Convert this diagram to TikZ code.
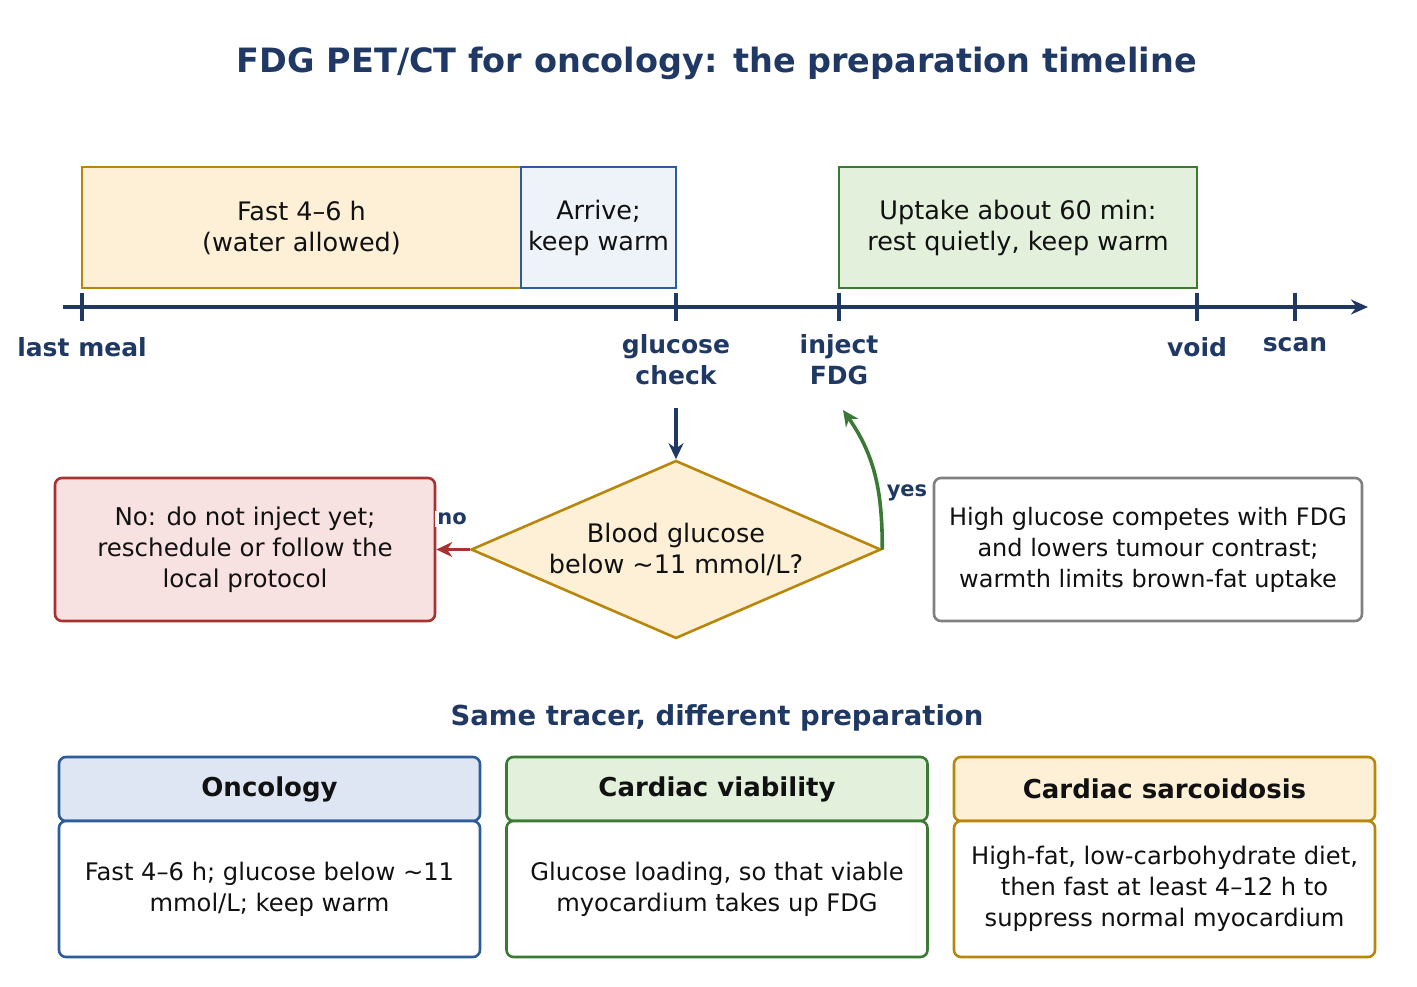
\documentclass[tikz,border=0pt]{standalone}
\usepackage{fontspec}
\setmainfont{DejaVu Sans}
\usetikzlibrary{shapes.geometric,arrows.meta}
\definecolor{navy}{HTML}{1F3864}
\definecolor{gold}{HTML}{B8860B}
\definecolor{goldf}{HTML}{FDF0D7}
\definecolor{blu}{HTML}{2E5C9A}
\definecolor{bluf}{HTML}{EEF2F9}
\definecolor{bluh}{HTML}{DDE6F2}
\definecolor{grn}{HTML}{3A7A35}
\definecolor{grnf}{HTML}{E2F0DC}
\definecolor{rd}{HTML}{A83232}
\definecolor{rdf}{HTML}{F8E1E1}
\definecolor{txt}{HTML}{111111}
\begin{document}
\begin{tikzpicture}[x=1pt,y=-1pt,
 body/.style={font=\fontsize{25.5}{31}\selectfont,text=txt,align=center},
 lab/.style={font=\fontsize{25}{31}\selectfont\bfseries,text=navy,align=center},
 bar/.style={draw,line width=2.6pt,minimum height=121pt,inner sep=0pt},
 rbox/.style={draw,line width=2.6pt,rounded corners=7pt,inner sep=0pt},
 tick/.style={line width=3.8pt,navy},
 arr/.style={line width=3.6pt,-{Stealth[length=16pt,width=15pt]}}]
\useasboundingbox (0,0) rectangle (1417,987);
\node[font=\fontsize{33.5}{38}\selectfont\bfseries,text=navy] (title) at (717,63) {FDG PET/CT for oncology: the preparation timeline};
% axis
\coordinate (a0) at (63,307); \coordinate (a1) at (1368,307);
\draw[tick,-{Stealth[length=17pt,width=15pt]}] (a0) -- (a1);
\foreach \n/\x in {t1/82,t2/676,t3/839,t4/1197,t5/1295}{
 \coordinate (\n) at (\x,307);
 \draw[tick] (\x,293) -- (\x,321);}
% bars
\node[bar,body,draw=gold,fill=goldf,minimum width=439pt] (fast) at (301.5,227.5) {Fast 4–6 h\\(water allowed)};
\node[bar,body,draw=blu,fill=bluf,minimum width=155pt] (arrv) at (598.5,227.5) {Arrive;\\keep warm};
\node[bar,body,draw=grn,fill=grnf,minimum width=358pt] (up) at (1018,227.5) {Uptake about 60 min:\\rest quietly, keep warm};
% labels
\node[lab] (l1) at (82,347) {last meal};
\node[lab] (l2) at (676,360) {glucose\\check};
\node[lab] (l3) at (839,360) {inject\\FDG};
\node[lab] (l4) at (1197,347) {void};
\node[lab] (l5) at (1295,345) {scan};
% diamond
\node[diamond,draw=gold,fill=goldf,line width=2.6pt,minimum width=410pt,minimum height=178pt,inner sep=0pt,aspect=2.3,body] (dia) at (676,549.5) {Blood glucose\\below \textasciitilde11 mmol/L?};
\coordinate (s) at (676,408);
\draw[arr,navy] (s) -- (dia.north);
\node[rbox,body,font=\fontsize{24.5}{31}\selectfont,draw=rd,fill=rdf,minimum width=380pt,minimum height=143pt] (no) at (245,549.5) {No: do not inject yet;\\reschedule or follow the\\local protocol};
\draw[arr,rd] (dia.west) -- (no.east);
\node[lab,font=\fontsize{21}{25}\selectfont\bfseries,fill=white,inner sep=2pt] at (452,519) {no};
\coordinate (yt) at (843,410);
\draw[arr,grn] (dia.east) to[out=90,in=-55] (yt);
\node[lab,font=\fontsize{21}{25}\selectfont\bfseries,fill=white,inner sep=2pt] at (907,493) {yes};
\node[rbox,body,font=\fontsize{24}{31}\selectfont,draw=gray,fill=white,minimum width=428pt,minimum height=143pt] (note) at (1148,549.5) {High glucose competes with FDG\\and lowers tumour contrast;\\warmth limits brown-fat uptake};
\node[lab,font=\fontsize{27.5}{31}\selectfont\bfseries] (sub) at (717,718) {Same tracer, different preparation};
% columns
\foreach \n/\c/\hf/\x/\h/\b in {
 c1/blu/bluh/269.5/Oncology/{Fast 4–6 h; glucose below \textasciitilde11\\mmol/L; keep warm},
 c2/grn/grnf/717/Cardiac viability/{Glucose loading, so that viable\\myocardium takes up FDG},
 c3/gold/goldf/1164.5/Cardiac sarcoidosis/{High-fat, low-carbohydrate diet,\\then fast at least 4–12 h to\\suppress normal myocardium}}{
 \node[rbox,draw=\c,fill=\hf,minimum width=421pt,minimum height=64pt,font=\fontsize{26}{30}\selectfont\bfseries,text=txt] (\n h) at (\x,789) {\h};
 \node[rbox,body,font=\fontsize{24.2}{31}\selectfont,draw=\c,fill=white,minimum width=421pt,minimum height=136pt] (\n b) at (\x,889) {\b};
}
\end{tikzpicture}
\end{document}
